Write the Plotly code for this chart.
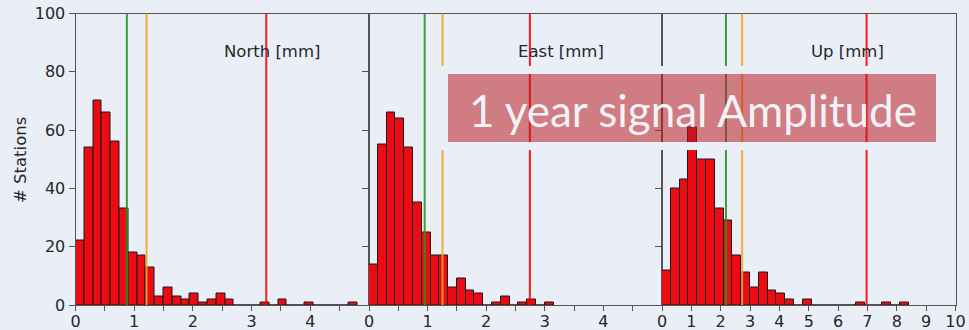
import numpy as np
import plotly.graph_objects as go

# Histogram counts per component (stations per amplitude bin)
north_counts = [22, 54, 70, 66, 56, 33, 18, 17, 13, 3, 6, 3, 2, 4, 1, 2, 4, 2,
                0, 0, 0, 1, 0, 2, 0, 0, 1, 0, 0, 0, 0, 1]
east_counts = [14, 55, 66, 64, 54, 35, 25, 17, 17, 6, 9, 5, 4, 0, 1, 3, 0, 1, 2, 0, 1]
up_counts = [12, 40, 43, 61, 50, 50, 33, 29, 17, 11, 6, 11, 5, 4, 2, 0, 2,
             0, 0, 0, 0, 0, 1, 0, 0, 1, 0, 1]

north_bin_width = 0.15
east_bin_width = 0.15
up_bin_width = 0.3

# Reference amplitude levels (green / orange / red markers) per component
north_levels = [0.875, 1.21, 3.25]
east_levels = [0.95, 1.255, 2.745]
up_levels = [2.18, 2.73, 6.97]

panel_titles = ["North [mm]", "East [mm]", "Up [mm]"]
panel_ranges = [[0, 5], [0, 5], [0, 10]]
y_ticks = [0, 20, 40, 60, 80, 100]
overlay_title = "1 year signal Amplitude"

W, H = 969, 330
BG = "#eaeff7"
BAR = "#ec0b13"
SPINE = "#555555"
TXT = "#262626"
LEVEL_COLORS = ["rgba(34,150,34,0.9)", "rgba(245,165,30,0.9)", "rgba(255,0,0,0.9)"]
FONT = "DejaVu Sans"

# panel pixel extents
x_edges_px = [75.5, 369, 662, 955.5]
y_top_px, y_bot_px = 13.5, 305


def px_x(v):
    return v / W


def px_y(v):
    return 1 - v / H


fig = go.Figure()

panels = [
    (north_counts, north_bin_width, north_levels),
    (east_counts, east_bin_width, east_levels),
    (up_counts, up_bin_width, up_levels),
]

for i, (counts, bw, levels) in enumerate(panels):
    ax = "" if i == 0 else str(i + 1)
    centers = np.arange(len(counts)) * bw + bw / 2
    fig.add_trace(go.Bar(
        x=centers, y=counts, width=bw,
        marker=dict(color=BAR, line=dict(color="#1a1a1a", width=1)),
        xaxis="x" + ax, yaxis="y" + ax, showlegend=False,
    ))
    for lv, col in zip(levels, LEVEL_COLORS):
        fig.add_shape(type="line", xref="x" + ax, yref="y" + ax,
                      x0=lv, x1=lv, y0=0, y1=100,
                      line=dict(color=col, width=2), layer="above")

    lo, hi = panel_ranges[i]
    step = 0.5 if hi <= 5 else 1
    tv = list(np.arange(lo, hi, step)) if hi <= 5 else list(np.arange(lo, hi + 0.001, step))
    tt = [str(int(t)) if abs(t - round(t)) < 1e-9 else "" for t in tv]

    xkey = "xaxis" + ax
    ykey = "yaxis" + ax
    fig.update_layout(**{
        xkey: dict(
            domain=[px_x(x_edges_px[i]), px_x(x_edges_px[i + 1])],
            range=panel_ranges[i], anchor="y" + ax, automargin=False,
            tickvals=tv, ticktext=tt, ticks="outside", ticklen=5,
            ticklabelstandoff=-3,
            tickcolor=SPINE, showline=True, mirror=True, linecolor=SPINE,
            linewidth=1, showgrid=False, zeroline=False,
            tickfont=dict(family=FONT, size=16, color=TXT),
        ),
        ykey: dict(
            domain=[px_y(y_bot_px), px_y(y_top_px)],
            range=[0, 100], anchor="x" + ax, automargin=False,
            tickvals=y_ticks, ticks="outside", ticklen=6, tickcolor=SPINE,
            showticklabels=(i == 0),
            showline=True, mirror=True, linecolor=SPINE, linewidth=1,
            showgrid=False, zeroline=False,
            tickfont=dict(family=FONT, size=16, color=TXT),
        ),
    })
    # component label, left-aligned at the middle of the panel
    fig.add_annotation(
        xref="paper", yref="paper",
        x=px_x(x_edges_px[i] + 0.5 * (x_edges_px[i + 1] - x_edges_px[i])),
        y=px_y(51), xanchor="left", yanchor="middle", showarrow=False,
        text=panel_titles[i], font=dict(family=FONT, size=16.5, color=TXT),
    )

# y-axis title
fig.add_annotation(
    xref="paper", yref="paper", x=px_x(20), y=px_y(160),
    text="# Stations", textangle=-90, showarrow=False,
    xanchor="center", yanchor="middle",
    font=dict(family=FONT, size=16.5, color=TXT),
)

# title banner: opaque frame around a translucent red box
bx0, bx1, by0, by1 = 448, 936, 74, 142
pad = 8
for (a, b, c, d) in [
    (bx0 - pad, bx1 + pad, by0 - pad, by0),
    (bx0 - pad, bx1 + pad, by1, by1 + pad),
    (bx0 - pad, bx0, by0, by1),
    (bx1, bx1 + pad, by0, by1),
]:
    fig.add_shape(type="rect", xref="paper", yref="paper",
                  x0=px_x(a), x1=px_x(b), y0=px_y(d), y1=px_y(c),
                  fillcolor=BG, line=dict(width=0), layer="above")
fig.add_shape(type="rect", xref="paper", yref="paper",
              x0=px_x(bx0), x1=px_x(bx1), y0=px_y(by1), y1=px_y(by0),
              fillcolor="rgba(186,30,36,0.55)", line=dict(width=0), layer="above")
fig.add_annotation(
    xref="paper", yref="paper", x=px_x((bx0 + bx1) / 2 + 1), y=px_y(110),
    text=overlay_title, showarrow=False, xanchor="center", yanchor="middle",
    font=dict(family="Lato", size=44, color="#f2f2f7"),
)

fig.update_layout(
    width=W, height=H,
    margin=dict(l=0, r=0, t=0, b=0),
    paper_bgcolor=BG, plot_bgcolor=BG,
    bargap=0, showlegend=False,
)

fig.write_html("out.html")
